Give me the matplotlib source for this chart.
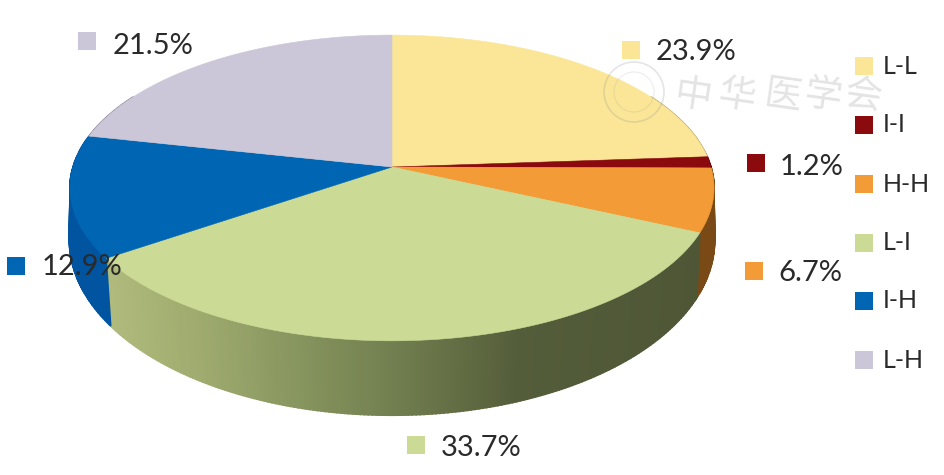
import numpy as np
import matplotlib
matplotlib.use('Agg')
import matplotlib.pyplot as plt

names = ['L-L', 'I-I', 'H-H', 'L-I', 'I-H', 'L-H']
shares = [23.9, 1.2, 6.7, 33.7, 12.9, 21.5]
pct_labels = ['23.9%', '1.2%', '6.7%', '33.7%', '12.9%', '21.5%']

colors = ['#FBE697', '#8B0A0E', '#F39B37', '#CBDB96', '#0066B3', '#CBC7D8']
side_colors = ['#B5A66A', '#5A0608', '#7A4A16', '#6B7548', '#0054A0', '#8C899A']

# where the percentage labels and legend rows sit, in image pixels
label_sq = [(631, 50), (756, 163), (754, 271), (416, 445), (16, 266), (87, 41)]
label_txt = [(656, 52), (780, 167), (778, 273), (441, 448), (42, 267), (113, 46)]
legend_y = [66, 125, 184, 243, 301, 360]

plt.rcParams['font.family'] = ['Lato', 'DejaVu Sans']

fig = plt.figure(figsize=(9.45, 4.75), dpi=100)
ax = fig.add_axes([0, 0, 1, 1])
ax.set_xlim(0, 945)
ax.set_ylim(475, 0)
ax.axis('off')


# circle on the table seen in perspective, angle runs clockwise from the top
def rim(theta, x0=392, y0=167, sx=319, sy=150, k=0.137):
    d = 1 + k * np.cos(theta)
    return x0 + sx * np.sin(theta) / d, y0 - sy * np.cos(theta) / d


def low_rim(theta):
    return rim(theta, y0=223, sx=321, sy=173, k=0.1)


edges = np.radians(np.concatenate([[0], np.cumsum(shares)]) * 3.6)
edges[-1] = 2 * np.pi

# the olive side gets darker from left to right
grad_x = [108, 200, 300, 400, 520, 700]
grad_r = [176, 158, 134, 112, 84, 78]
grad_g = [186, 170, 148, 125, 93, 86]
grad_b = [124, 110, 94, 78, 58, 54]

# side wall first, top face covers what is left over
for i in range(len(shares)):
    a = max(edges[i], np.radians(60))
    b = min(edges[i + 1], np.radians(300))
    if b <= a:
        continue
    steps = np.linspace(a, b, max(2, int((b - a) * 90)))
    for t0, t1 in zip(steps[:-1], steps[1:]):
        xt, yt = rim(np.array([t0, t1]))
        xl, yl = low_rim(np.array([t1, t0]))
        if names[i] == 'L-I':
            xm = (xt[0] + xt[1]) / 2
            c = (np.interp(xm, grad_x, grad_r) / 255,
                 np.interp(xm, grad_x, grad_g) / 255,
                 np.interp(xm, grad_x, grad_b) / 255)
        else:
            c = side_colors[i]
        ax.fill(np.r_[xt, xl], np.r_[yt, yl], color=c, lw=1.2, zorder=2)

for i in range(len(shares)):
    t = np.linspace(edges[i], edges[i + 1], 120)
    x, y = rim(t)
    ax.fill(np.r_[392, x], np.r_[167, y], color=colors[i], lw=0.4, zorder=3)

for i in range(len(shares)):
    ax.scatter(*label_sq[i], marker='s', s=150, color=colors[i], lw=0, zorder=5)
    ax.text(*label_txt[i], pct_labels[i], fontsize=21, color='#2a2a2a',
            va='center', ha='left', zorder=6)
    ax.scatter(864, legend_y[i], marker='s', s=150, color=colors[i], lw=0, zorder=5)
    ax.text(883, legend_y[i], names[i], fontsize=18, color='#2a2a2a',
            va='center', ha='left', zorder=6)

# faint watermark
mark = '#8a8a8a'
ax.add_patch(plt.Circle((634, 92), 30, fill=False, ec=mark, lw=1.2, alpha=0.22, zorder=4))
ax.add_patch(plt.Circle((634, 92), 20, fill=False, ec=mark, lw=0.8, alpha=0.16, zorder=4))
wm_x = [693, 737, 783, 823, 863]
for ch, xp in zip('中华医学会', wm_x):
    ax.text(xp, 96, ch, fontsize=27, color='#e4e4e4', rotation=-8,
            family=['Noto Sans CJK SC', 'DejaVu Sans'], ha='center', va='center', zorder=4)

fig.savefig('out.png', dpi=100)
